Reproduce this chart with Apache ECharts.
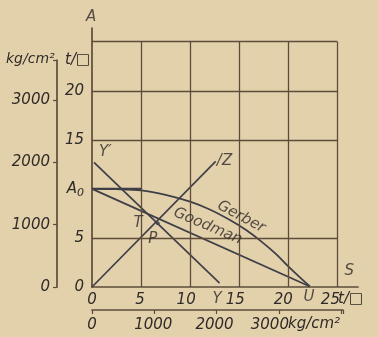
<!DOCTYPE html>
<html><head><meta charset="utf-8">
<script src="https://cdn.jsdelivr.net/npm/echarts@6/dist/echarts.min.js"></script>
<style>html,body{margin:0;padding:0;background:#e3d1ac}#c{width:378px;height:337px}</style>
</head><body><div id="c"></div>
<script>
// grid (t per sq. inch units)
const gridXs = [5, 10, 15, 20, 25];
const gridYs = [5, 15, 20, 25];
const xTicks = [0, 5, 10, 15, 20, 25];
const tTicks = [0, 5, 10, 15, 20];
const tTickLabels = ['0', '5', '{a|A}{s|0}', '15', '20'];
const kgTicks = [0, 1000, 2000, 3000];
// curves
const a0SegX = [0, 5];
const a0SegY = [10, 10];
const gerberX = [0, 2.5, 5, 7.5, 10, 12, 14.1, 15.7, 17.3, 18.7, 20, 21.1, 22.2];
const gerberY = [10, 9.97, 9.85, 9.4, 8.7, 7.9, 6.8, 5.8, 4.6, 3.4, 2.1, 1.05, 0.05];
const goodmanX = [0, 22.2];
const goodmanY = [10, 0.05];
const yieldX = [0.2, 13.0];
const yieldY = [12.7, 0.4];
const ozX = [0, 12.6];
const ozY = [0, 12.8];
const dotX = [6.7];
const dotY = [6.5];
// annotations
const annNames = ['A', 'Y′', '/Z', 'T', 'P', 'Gerber', 'Goodman', 'Y', 'U', 'S'];
const annX = [-0.1, 1.35, 13.5, 4.7, 6.2, 15.2, 11.8, 12.75, 22.1, 26.2];
const annY = [27.5, 13.7, 12.8, 6.5, 4.9, 7.15, 6.2, -1.25, -1.05, 1.65];
const annRot = [0, 0, 0, 0, 0, -28, -23, 0, 0, 0];

const INK = '#2f2b28';
const LINE = '#3f3f47';
const GRIDC = '#5d4c3a';
const FONT = 'DejaVu Sans';
const txt = {color: INK, fontFamily: FONT, fontStyle: 'italic', fontSize: 15};
const sty = (pr) => ({color: INK, fontFamily: FONT, fontStyle: 'italic', fontSize: 15, padding: [0, pr, 0, 0]});

const zip = (xs, ys) => xs.map((x, i) => [x, ys[i]]);
const chart = echarts.init(document.getElementById('c'), null, {renderer: 'canvas'});

const markData = gridXs.map(v => [{coord: [v, 0]}, {coord: [v, 25]}])
  .concat(gridYs.map(v => [{coord: [0, v]}, {coord: [25, v]}]));

const lineS = (name, xs, ys, w, smooth) => ({
  name, type: 'line', xAxisIndex: 0, yAxisIndex: 0, data: zip(xs, ys),
  symbol: 'none', smooth: smooth || false, clip: false,
  lineStyle: {color: LINE, width: w}, silent: true, z: 3
});

chart.setOption({
  backgroundColor: '#e3d1ac',
  animation: false,
  grid: [
    {left: 92, right: 20, top: 28, bottom: 50},
    {left: 57, width: 1, top: 60, bottom: 50},
    {left: 92, right: 35, top: 309, height: 1}
  ],
  xAxis: [
    {gridIndex: 0, type: 'value', min: 0, max: 27.1, interval: 5,
     axisLine: {show: true, onZero: false, lineStyle: {color: GRIDC, width: 1.7}},
     axisTick: {show: false}, splitLine: {show: false},
     axisLabel: Object.assign({margin: 6,
       formatter: v => xTicks.includes(v) ? '{p' + v + '|' + v + '}' : '',
       rich: {p0: sty(0), p5: sty(2), p10: sty(8), p15: sty(8), p20: sty(10), p25: sty(14)}}, txt)},
    {gridIndex: 1, type: 'value', show: false, min: 0, max: 1},
    {gridIndex: 2, type: 'value', min: 0, max: 4030, interval: 1000,
     axisLine: {show: true, lineStyle: {color: GRIDC, width: 1.7}},
     axisTick: {show: true, length: 4, lineStyle: {color: GRIDC, width: 1.2}},
     splitLine: {show: false},
     axisLabel: Object.assign({margin: 8,
       formatter: v => kgTicks.includes(v) ? '{k' + v + '|' + v + '}' : '',
       rich: {k0: sty(0), k1000: sty(2), k2000: sty(4), k3000: sty(18)}}, txt)}
  ],
  yAxis: [
    {gridIndex: 0, type: 'value', min: 0, max: 26.4, interval: 5,
     axisLine: {show: true, onZero: false, lineStyle: {color: GRIDC, width: 1.7}},
     axisTick: {show: false}, splitLine: {show: false},
     axisLabel: Object.assign({margin: 8,
       formatter: v => { const i = tTicks.indexOf(v); return i >= 0 ? tTickLabels[i] : ''; },
       rich: {a: {color: INK, fontFamily: FONT, fontStyle: 'italic', fontSize: 15},
              s: {color: INK, fontFamily: FONT, fontStyle: 'italic', fontSize: 11, padding: [8, 0, 0, 0]}}}, txt)},
    {gridIndex: 1, type: 'value', min: 0, max: 3640, interval: 1000,
     axisLine: {show: true, lineStyle: {color: GRIDC, width: 1.7}},
     axisTick: {show: true, length: 4, lineStyle: {color: GRIDC, width: 1.2}},
     splitLine: {show: false},
     axisLabel: Object.assign({margin: 7, formatter: v => kgTicks.includes(v) ? String(v) : ''}, txt)},
    {gridIndex: 2, type: 'value', show: false, min: 0, max: 1}
  ],
  series: [
    Object.assign(lineS('A0', a0SegX, a0SegY, 2.4, false), {
      markLine: {silent: true, symbol: ['none', 'none'], label: {show: false},
        lineStyle: {type: 'solid', color: GRIDC, width: 1.3}, data: markData}
    }),
    lineS('Gerber', gerberX, gerberY, 1.8, 0.3),
    lineS('Goodman', goodmanX, goodmanY, 1.8),
    lineS('Yield', yieldX, yieldY, 1.7),
    lineS('OZ', ozX, ozY, 1.7),
    {type: 'scatter', xAxisIndex: 0, yAxisIndex: 0, data: zip(dotX, dotY),
     symbolSize: 4, itemStyle: {color: LINE}, silent: true, z: 4},
    {type: 'scatter', xAxisIndex: 0, yAxisIndex: 0, clip: false, silent: true, z: 5,
     symbolSize: 0,
     data: annNames.map((n, i) => ({name: n, value: [annX[i], annY[i]],
       label: {rotate: annRot[i]}})),
     label: Object.assign({show: true, position: 'inside', formatter: p => p.name}, txt)}
  ],
  graphic: [
    {type: 'text', left: 6, top: 52, style: {text: 'kg/cm²', fill: INK, font: 'italic 14px "DejaVu Sans"'}},
    {type: 'text', left: 65, top: 53, style: {text: 't/□', fill: INK, font: 'italic 15px "DejaVu Sans"'}},
    {type: 'text', left: 338, top: 292, style: {text: 't/□', fill: INK, font: 'italic 15px "DejaVu Sans"'}},
    {type: 'text', left: 288, top: 317, style: {text: 'kg/cm²', fill: INK, font: 'italic 15px "DejaVu Sans"'}}
  ]
});
</script></body></html>
